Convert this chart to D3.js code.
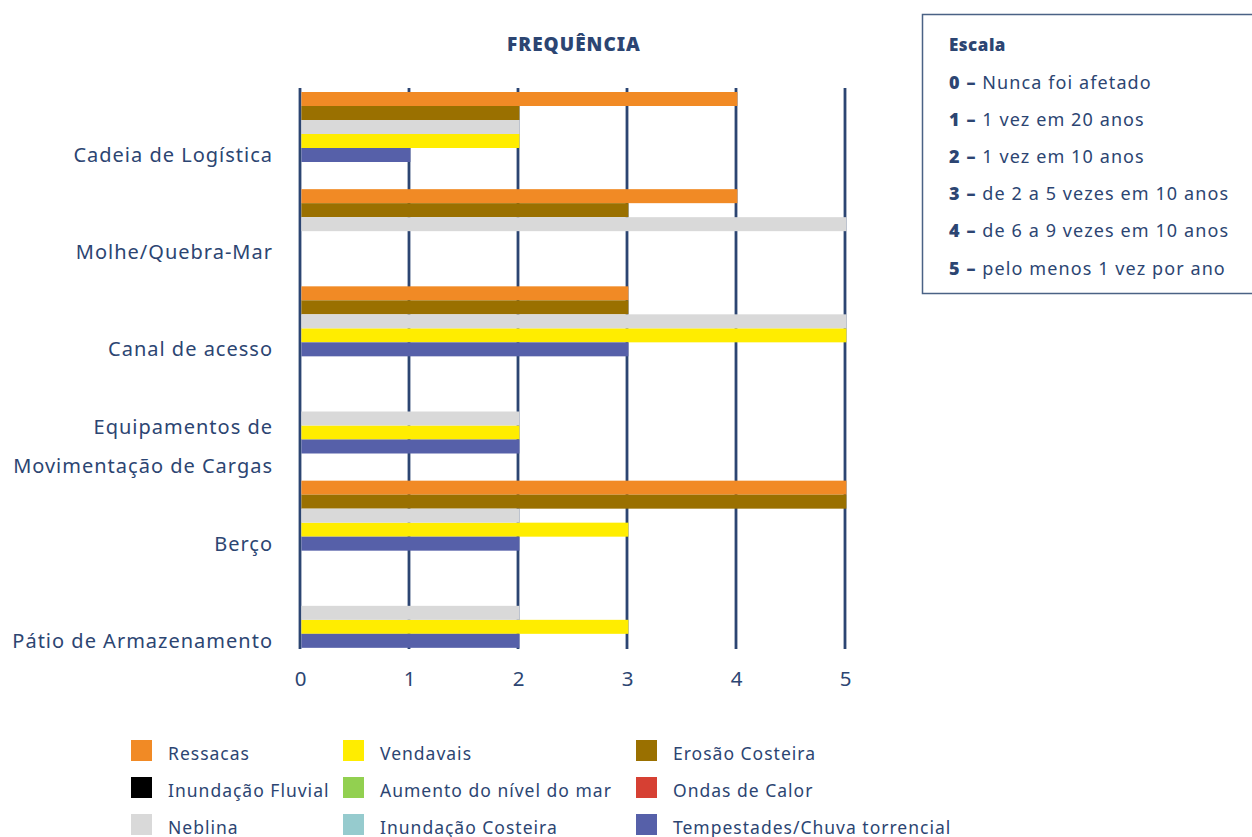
<!DOCTYPE html>
<html>
<head>
<meta charset="utf-8">
<script src="https://cdn.jsdelivr.net/npm/d3@7"></script>
<style>
  html, body { margin: 0; padding: 0; background: #fff; }
  svg { display: block; font-family: "Noto Sans", sans-serif; }
</style>
</head>
<body>
<svg id="chart" width="1252" height="837"></svg>
<script>
// Categories (top to bottom)
const categories = [
  "Cadeia de Logística",
  "Molhe/Quebra-Mar",
  "Canal de acesso",
  "Equipamentos de Movimentação de Cargas",
  "Berço",
  "Pátio de Armazenamento"
];
// Label lines for each category
const categoryLines = [
  ["Cadeia de Logística"],
  ["Molhe/Quebra-Mar"],
  ["Canal de acesso"],
  ["Equipamentos de", "Movimentação de Cargas"],
  ["Berço"],
  ["Pátio de Armazenamento"]
];

// Series in legend order
const seriesNames = [
  "Ressacas", "Vendavais", "Erosão Costeira",
  "Inundação Fluvial", "Aumento do nível do mar", "Ondas de Calor",
  "Neblina", "Inundação Costeira", "Tempestades/Chuva torrencial"
];
const seriesColors = [
  "#f18a25", "#ffed00", "#9a7000",
  "#000000", "#92d050", "#d64033",
  "#d9d9d9", "#96cbce", "#5660a9"
];
// Order of the bars inside each category group (top to bottom)
const barOrder = [
  "Ressacas", "Erosão Costeira", "Neblina", "Vendavais", "Tempestades/Chuva torrencial",
  "Inundação Fluvial", "Aumento do nível do mar", "Ondas de Calor", "Inundação Costeira"
];

// Frequency per series, one value per category (same order as categories)
const ressacas         = [4, 4, 3, 0, 5, 0];
const vendavais        = [2, 0, 5, 2, 3, 3];
const erosaoCosteira   = [2, 3, 3, 0, 5, 0];
const inundacaoFluvial = [0, 0, 0, 0, 0, 0];
const aumentoNivelMar  = [0, 0, 0, 0, 0, 0];
const ondasCalor       = [0, 0, 0, 0, 0, 0];
const neblina          = [2, 5, 5, 2, 2, 2];
const inundacaoCosteira= [0, 0, 0, 0, 0, 0];
const tempestades      = [1, 0, 3, 2, 2, 2];

const seriesValues = [
  ressacas, vendavais, erosaoCosteira,
  inundacaoFluvial, aumentoNivelMar, ondasCalor,
  neblina, inundacaoCosteira, tempestades
];

const xTicks = [0, 1, 2, 3, 4, 5];

// Frequency scale legend
const scaleTitle = "Escala";
const scaleKeys = ["0 –", "1 –", "2 –", "3 –", "4 –", "5 –"];
const scaleTexts = [
  "Nunca foi afetado",
  "1 vez em 20 anos",
  "1 vez em 10 anos",
  "de 2 a 5 vezes em 10 anos",
  "de 6 a 9 vezes em 10 anos",
  "pelo menos 1 vez por ano"
];

const navy = "#2c4572";
const svg = d3.select("#chart");

// ---- scales ----
const x = d3.scaleLinear().domain([0, 5]).range([300, 845]);
const y = d3.scaleBand().domain(categories).range([92, 675]).padding(0);
const slot = d3.scaleBand().domain(barOrder).range([0, 126]).padding(0);

const gridTop = 88, gridBottom = 649;

// ---- title ----
svg.append("text")
  .attr("x", 574).attr("y", 51)
  .attr("text-anchor", "middle")
  .attr("fill", navy)
  .attr("font-size", 19).attr("font-weight", 900)
  .attr("letter-spacing", 1)
  .text("FREQUÊNCIA");

// ---- vertical grid lines (behind the bars) ----
svg.append("g").selectAll("line")
  .data(xTicks)
  .join("line")
  .attr("x1", d => x(d)).attr("x2", d => x(d))
  .attr("y1", gridTop).attr("y2", gridBottom)
  .attr("stroke", navy).attr("stroke-width", 2.8);

// ---- bars ----
const barData = [];
categories.forEach((c, ci) => {
  seriesNames.forEach((s, si) => {
    barData.push({ category: c, series: s, value: seriesValues[si][ci], color: seriesColors[si] });
  });
});

svg.append("g").selectAll("rect")
  .data(barData.filter(d => d.value > 0))
  .join("rect")
  .attr("x", x(0) + 1.4)
  .attr("y", d => y(d.category) + slot(d.series))
  .attr("width", d => x(d.value) - x(0))
  .attr("height", slot.bandwidth())
  .attr("fill", d => d.color);

// ---- x axis tick labels ----
const xAxis = d3.axisBottom(x).tickValues(xTicks).tickFormat(d3.format("d"))
  .tickSize(0).tickPadding(0);
const gx = svg.append("g").attr("transform", `translate(0, 667)`).call(xAxis);
gx.select(".domain").remove();
gx.selectAll("text")
  .attr("fill", navy)
  .attr("font-size", 20.5)
  .attr("font-family", "Noto Sans, sans-serif")
  .attr("dy", "0.95em");

// ---- category labels ----
const labelG = svg.append("g");
categories.forEach((c, ci) => {
  const lines = categoryLines[ci];
  const cy = y(c) + slot.step() * barOrder.length / 2;
  const lh = 39;
  lines.forEach((ln, li) => {
    labelG.append("text")
      .attr("x", 273)
      .attr("y", cy + (li - (lines.length - 1) / 2) * lh)
      .attr("dy", "0.35em")
      .attr("text-anchor", "end")
      .attr("fill", navy)
      .attr("font-size", 20)
      .attr("letter-spacing", 1.0)
      .text(ln);
  });
});

// ---- series legend ----
const legend = svg.append("g");
const colX = [131, 343, 636];
const rowY = [740, 777, 814];
seriesNames.forEach((s, i) => {
  const col = i % 3, row = Math.floor(i / 3);
  const g = legend.append("g").attr("transform", `translate(${colX[col]},${rowY[row]})`);
  g.append("rect").attr("width", 21).attr("height", 21).attr("fill", seriesColors[i]);
  g.append("text")
    .attr("x", 37).attr("y", 13.5).attr("dy", "0.38em")
    .attr("fill", navy).attr("font-size", 17.5).attr("letter-spacing", 1.0)
    .text(s);
});

// ---- frequency scale box ----
const box = svg.append("g");
box.append("rect")
  .attr("x", 922.5).attr("y", 14.5)
  .attr("width", 360).attr("height", 279)
  .attr("fill", "none").attr("stroke", "#4a6285").attr("stroke-width", 1.5);
box.append("text")
  .attr("x", 949).attr("y", 51)
  .attr("fill", navy).attr("font-size", 17).attr("font-weight", 900)
  .attr("letter-spacing", 0.5)
  .text(scaleTitle);
scaleKeys.forEach((k, i) => {
  const t = box.append("text")
    .attr("x", 949).attr("y", 88.5 + i * 37.2)
    .attr("fill", navy).attr("font-size", 18).attr("letter-spacing", 1.1);
  t.append("tspan").attr("font-weight", 900).text(k + " ");
  t.append("tspan").text(scaleTexts[i]);
});
</script>
</body>
</html>
